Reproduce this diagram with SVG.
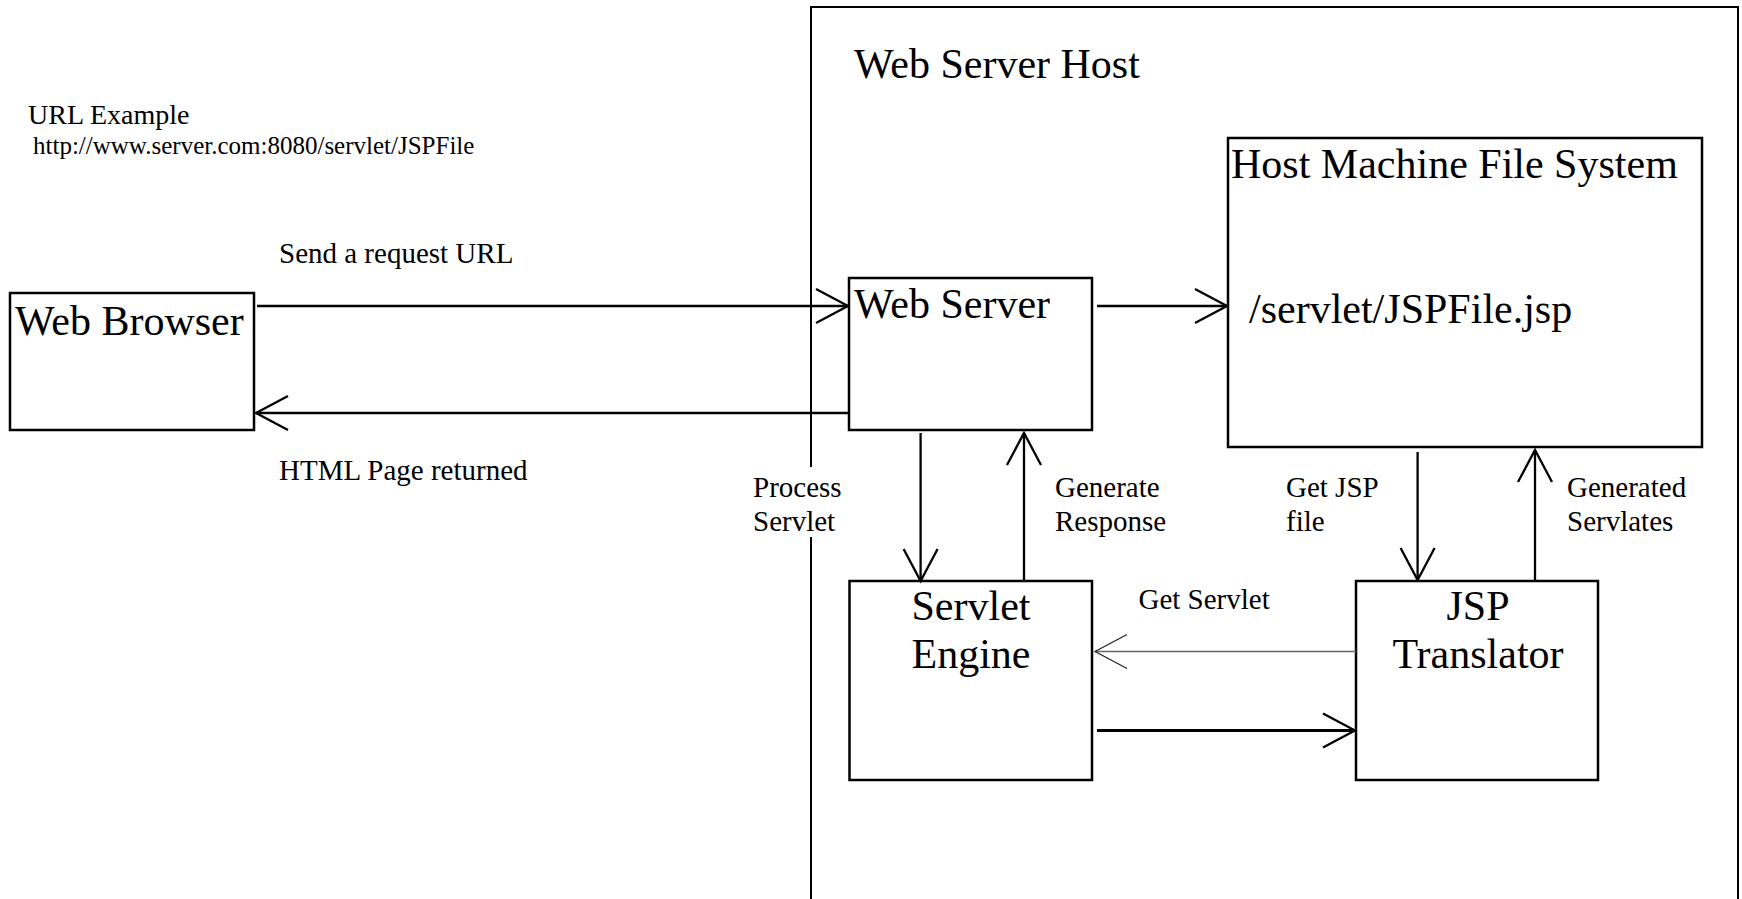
<svg xmlns="http://www.w3.org/2000/svg" width="1742" height="899" viewBox="0 0 1742 899">
<style>
  .box { fill: #fff; stroke: #000; stroke-width: 2.5; }
  .big { font-family: "Liberation Serif", "Times New Roman", serif; font-size: 42px; fill: #000; }
  .lbl { font-family: "Liberation Serif", "Times New Roman", serif; font-size: 29px; fill: #000; }
  .conn { fill: none; stroke: #000; stroke-width: 2.3; marker-end: url(#open); }
  .thin { fill: none; stroke: #666; stroke-width: 1.4; marker-end: url(#openThin); }
</style>
<defs>
  <marker id="open" markerUnits="userSpaceOnUse" viewBox="-36 -20 40 40" refX="0" refY="0" markerWidth="40" markerHeight="40" orient="auto" overflow="visible">
    <path d="M-32,-17 L0,0 L-32,17" fill="none" stroke="#000" stroke-width="2.3"/>
  </marker>
  <marker id="openThin" markerUnits="userSpaceOnUse" viewBox="-36 -20 40 40" refX="0" refY="0" markerWidth="40" markerHeight="40" orient="auto" overflow="visible">
    <path d="M-32,-17 L0,0 L-32,17" fill="none" stroke="#222" stroke-width="1.2"/>
  </marker>
</defs>
<rect x="0" y="0" width="1742" height="899" fill="#fff"/>

<g id="host">
  <path d="M811,905 L811,537 M811,467 L811,7 L1738,7 L1738,905" fill="none" stroke="#000" stroke-width="2"/>
  <text class="big" x="854" y="78">Web Server Host</text>
</g>

<g id="url-example">
  <text class="lbl" x="28" y="124" style="font-size:28px">URL Example</text>
  <text class="lbl" x="33" y="154" style="font-size:25px">http://www.server.com:8080/servlet/JSPFile</text>
</g>

<g id="web-browser">
  <rect class="box" x="10" y="293" width="244" height="137"/>
  <text class="big" x="15" y="335">Web Browser</text>
</g>

<g id="web-server">
  <rect class="box" x="849" y="278" width="243" height="152"/>
  <text class="big" x="854" y="318">Web Server</text>
</g>

<g id="file-system">
  <rect class="box" x="1228" y="138" width="474" height="309"/>
  <text class="big" x="1231" y="178">Host Machine File System</text>
  <text class="big" x="1249" y="323">/servlet/JSPFile.jsp</text>
</g>

<g id="servlet-engine">
  <rect class="box" x="849.5" y="581" width="242.5" height="199"/>
  <text class="big" x="971" y="620" text-anchor="middle">Servlet</text>
  <text class="big" x="971" y="668" text-anchor="middle">Engine</text>
</g>

<g id="jsp-translator">
  <rect class="box" x="1356" y="581" width="242" height="199"/>
  <text class="big" x="1478" y="620" text-anchor="middle">JSP</text>
  <text class="big" x="1478" y="668" text-anchor="middle">Translator</text>
</g>

<g id="connectors">
  <line class="conn" x1="257" y1="306" x2="848" y2="306"/>
  <line class="conn" x1="849" y1="413" x2="256" y2="413"/>
  <line class="conn" x1="1097" y1="306" x2="1227" y2="306"/>
  <line class="conn" x1="920.6" y1="433" x2="920.6" y2="581"/>
  <line class="conn" x1="1024" y1="581" x2="1024" y2="433"/>
  <line class="conn" x1="1417.6" y1="452" x2="1417.6" y2="580"/>
  <line class="conn" x1="1535" y1="580" x2="1535" y2="450"/>
  <line class="thin" x1="1356" y1="651.5" x2="1095" y2="651.5"/>
  <line class="conn" x1="1097" y1="730.5" x2="1355" y2="730.5" style="stroke-width:2.8"/>

  <text class="lbl" x="279" y="263">Send a request URL</text>
  <text class="lbl" x="279" y="480">HTML Page returned</text>
  <text class="lbl" x="753" y="497">Process</text>
  <text class="lbl" x="753" y="531">Servlet</text>
  <text class="lbl" x="1055" y="497">Generate</text>
  <text class="lbl" x="1055" y="531">Response</text>
  <text class="lbl" x="1286" y="497">Get JSP</text>
  <text class="lbl" x="1286" y="531">file</text>
  <text class="lbl" x="1567" y="497">Generated</text>
  <text class="lbl" x="1567" y="531">Servlates</text>
  <text class="lbl" x="1138.5" y="609">Get Servlet</text>
</g>
</svg>
